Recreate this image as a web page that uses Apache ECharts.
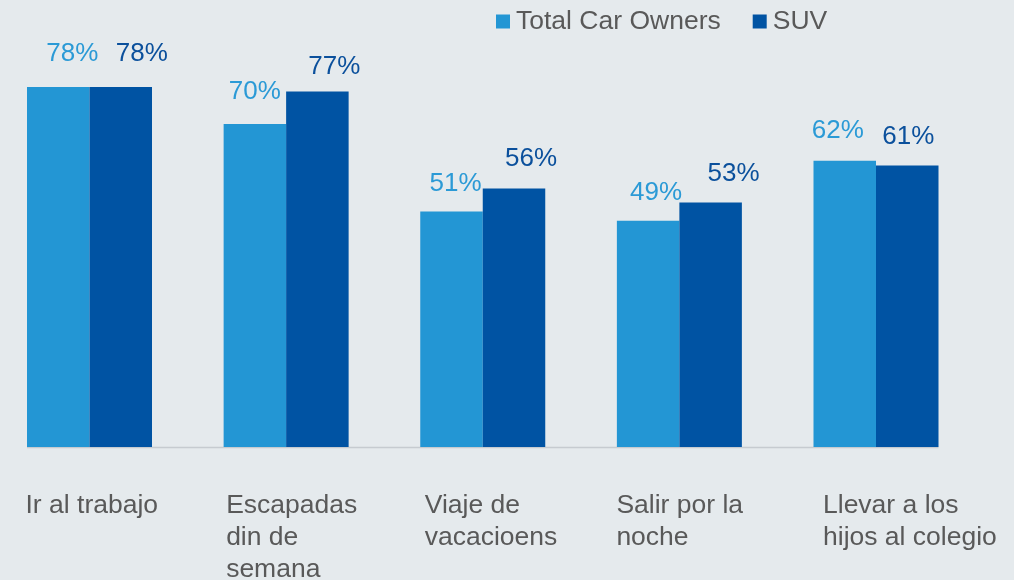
<!DOCTYPE html>
<html>
<head>
<meta charset="utf-8">
<script src="https://cdn.jsdelivr.net/npm/echarts@6/dist/echarts.min.js"></script>
<style>
  html, body { margin: 0; padding: 0; background: #e5eaed; }
  #chart { width: 1014px; height: 580px; }
</style>
</head>
<body>
<div id="chart"></div>
<script>
// data
const categories = ['Ir al trabajo', 'Escapadas\ndin de\nsemana', 'Viaje de\nvacacioens', 'Salir por la\nnoche', 'Llevar a los\nhijos al colegio'];
const seriesNames = ['Total Car Owners', 'SUV'];
const totalOwners = [78, 70, 51, 49, 62];
const suvOwners = [78, 77, 56, 53, 61];

// label nudges (style only)
const totalShift = [[14, -4], [0, -3], [4, 1], [8, 1], [-7, -1]];
const suvShift = [[21, -4], [17, 4], [17, -1], [23, 0], [1, 0]];
const catIndent = [0, 4, 6, 1, 11];

const font = '"Liberation Sans", Arial, sans-serif';
const lightBlue = '#2396d4';
const darkBlue = '#0053a3';

function withShift(vals, shift) {
  return vals.map(function (v, i) {
    return { value: v, label: { offset: shift[i] } };
  });
}

const catRich = {};
catIndent.forEach(function (p, i) {
  catRich['c' + i] = {
    fontSize: 26.5,
    lineHeight: 32,
    color: '#595959',
    fontFamily: font,
    padding: [0, 0, 0, p]
  };
});

const chart = echarts.init(document.getElementById('chart'));

// grids: tick positions sit on the bar-group centres (boundaryGap false)
const option = {
  backgroundColor: '#e5eaed',
  animation: false,
  textStyle: { fontFamily: font },
  legend: {
    left: 491,
    top: 3,
    icon: 'rect',
    itemWidth: 14,
    itemHeight: 14,
    itemGap: 32,
    data: seriesNames,
    textStyle: { fontSize: 26.5, color: '#595959', fontFamily: font, padding: [0, 0, 0, 1] }
  },
  grid: [
    { left: 89.5, right: 138, top: 31.6, bottom: 133, outerBoundsMode: 'none', containLabel: false },
    { left: 25.5, right: 202, top: 31.6, bottom: 133, outerBoundsMode: 'none', containLabel: false }
  ],
  xAxis: [
    {
      type: 'category',
      gridIndex: 0,
      boundaryGap: false,
      data: categories,
      axisLine: { show: false },
      axisTick: { show: false },
      axisLabel: { show: false }
    },
    {
      type: 'category',
      gridIndex: 1,
      boundaryGap: false,
      data: categories,
      axisLine: { show: false },
      axisTick: { show: false },
      axisLabel: {
        interval: 0,
        hideOverlap: false,
        align: 'left',
        margin: 43,
        fontSize: 26.5,
        lineHeight: 32,
        color: '#595959',
        fontFamily: font,
        formatter: function (v, i) {
          return v.split('\n').map(function (line) {
            return '{c' + i + '|' + line + '}';
          }).join('\n');
        },
        rich: catRich
      }
    }
  ],
  yAxis: [
    { type: 'value', gridIndex: 0, min: 0, max: 90, show: false },
    { type: 'value', gridIndex: 1, min: 0, max: 90, show: false }
  ],
  series: [
    {
      name: seriesNames[0],
      type: 'bar',
      clip: false,
      barWidth: 62.5,
      barGap: '0%',
      itemStyle: { color: lightBlue },
      label: {
        show: true,
        position: 'top',
        distance: 16,
        fontSize: 26,
        color: '#2b9ad6',
        fontFamily: font,
        formatter: '{c}%'
      },
      data: withShift(totalOwners, totalShift)
    },
    {
      name: seriesNames[1],
      type: 'bar',
      clip: false,
      barWidth: 62.5,
      barGap: '0%',
      itemStyle: { color: darkBlue },
      label: {
        show: true,
        position: 'top',
        distance: 16,
        fontSize: 26,
        color: '#0b509c',
        fontFamily: font,
        formatter: '{c}%'
      },
      data: withShift(suvOwners, suvShift)
    }
  ]
};

chart.setOption(option);

// thin baseline under the bars, from first bar edge to last bar edge
const y0 = chart.convertToPixel({ yAxisIndex: 0 }, 0);
const xFirst = chart.convertToPixel({ xAxisIndex: 0 }, 0) - 62.5;
const xLast = chart.convertToPixel({ xAxisIndex: 0 }, categories.length - 1) + 62.5;
chart.setOption({
  graphic: [{
    type: 'line',
    z: 0,
    shape: { x1: xFirst, y1: y0 + 0.5, x2: xLast, y2: y0 + 0.5 },
    style: { stroke: '#c6cbd0', lineWidth: 1.5 }
  }]
});
</script>
</body>
</html>
